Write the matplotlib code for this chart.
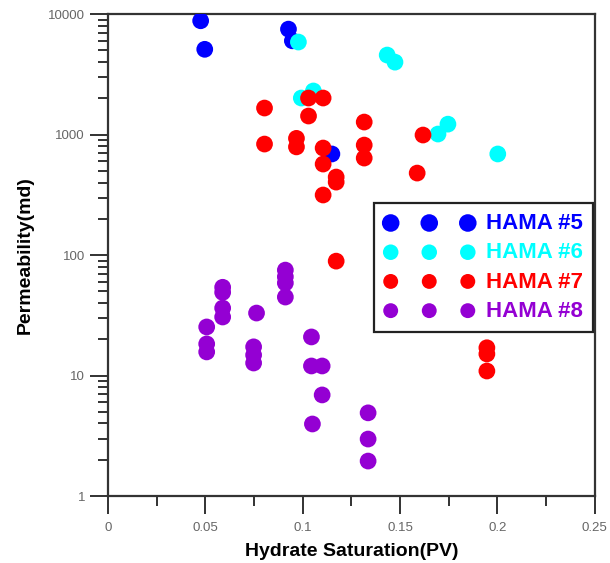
import matplotlib
matplotlib.use("Agg")
from matplotlib import pyplot as plt
from matplotlib.ticker import FixedLocator, LogLocator, NullFormatter
import numpy as np

plt.rcParams['font.family'] = ['Liberation Sans', 'DejaVu Sans']

# HAMA #5
x5 = [0.0476, 0.0497, 0.0927, 0.0947, 0.115]
y5 = [8800, 5100, 7500, 6000, 690]
# HAMA #6
x6 = [0.0978, 0.0993, 0.1055, 0.1434, 0.1474, 0.1695, 0.1746, 0.2002]
y6 = [5860, 2010, 2300, 4570, 3990, 1010, 1220, 690]
# HAMA #7
x7 = [0.0804, 0.0804, 0.0968, 0.0968, 0.103, 0.103, 0.1105, 0.1105, 0.1105,
      0.1172, 0.1172, 0.1105, 0.1316, 0.1316, 0.1316, 0.1618, 0.1588, 0.1172,
      0.1946, 0.1946, 0.1946]
y7 = [1660, 834, 930, 790, 2010, 1425, 2010, 773, 569,
      444, 403, 315, 1270, 818, 638, 991, 479, 89,
      17, 15.1, 10.9]
# HAMA #8
x8 = [0.0911, 0.0911, 0.0911, 0.0911, 0.0589, 0.0589, 0.0589, 0.0589,
      0.0507, 0.0507, 0.0507, 0.0763, 0.0748, 0.0748, 0.0748, 0.1045,
      0.1045, 0.110, 0.110, 0.105, 0.1336, 0.1336, 0.1336]
y8 = [75, 66, 58.6, 44.8, 54, 49, 36.3, 30.6,
      25.3, 18.3, 15.7, 33, 17.3, 14.8, 12.7, 20.9,
      12.0, 12.0, 6.9, 3.96, 4.9, 2.97, 1.95]

names = ['HAMA #5', 'HAMA #6', 'HAMA #7', 'HAMA #8']
colors = ['#0000ff', '#00ffff', '#ff0000', '#9400d3']
xticks = [0, 0.05, 0.1, 0.15, 0.2, 0.25]
xticklabels = ['0', '0.05', '0.1', '0.15', '0.2', '0.25']

fig = plt.figure(figsize=(6.1, 5.63), dpi=100)
ax = fig.add_axes([0.177, 0.119, 0.798, 0.856])

for xs, ys, c, n in zip([x5, x6, x7, x8], [y5, y6, y7, y8], colors, names):
    ax.scatter(xs, ys, s=145, color=c, label=n, edgecolors='none', zorder=3)

ax.set_yscale('log')
ax.set_xlim(0, 0.25)
ax.set_ylim(1, 10000)
ax.set_xticks(xticks)
ax.set_xticklabels(xticklabels)
ax.xaxis.set_minor_locator(FixedLocator([0.025, 0.075, 0.125, 0.175, 0.225]))
ax.yaxis.set_major_locator(FixedLocator([1, 10, 100, 1000, 10000]))
ax.set_yticklabels(['1', '10', '100', '1000', '10000'])
ax.yaxis.set_minor_locator(LogLocator(base=10, subs=np.arange(2, 10)))
ax.yaxis.set_minor_formatter(NullFormatter())

ax.tick_params(which='major', direction='out', length=13, width=1.3,
               labelsize=9.5, labelcolor='#666666', color='#222222')
ax.tick_params(which='minor', direction='out', length=7, width=1.3, color='#222222')
ax.tick_params(axis='x', which='major', pad=6)
for sp in ax.spines.values():
    sp.set_linewidth(1.6)
    sp.set_color('#333333')

ax.set_xlabel('Hydrate Saturation(PV)', fontsize=14, fontweight='bold', labelpad=6)
ax.set_ylabel('Permeability(md)', fontsize=14, fontweight='bold', labelpad=10)

leg = ax.legend(loc='upper right', bbox_to_anchor=(0.996, 0.608), scatterpoints=3,
                scatteryoffsets=[0.4], fancybox=False, framealpha=1,
                edgecolor='#222222', prop={'weight': 'bold', 'size': 16},
                handlelength=4.07, handletextpad=0.5, labelspacing=0.37,
                borderpad=0.46, borderaxespad=0)
leg.get_frame().set_linewidth(1.6)
for h, t, c, sz in zip(leg.legend_handles, leg.get_texts(), colors, [160, 125, 115, 115]):
    h.set_sizes([sz, sz, sz])
    t.set_color(c)

fig.savefig('out.png', dpi=100)
